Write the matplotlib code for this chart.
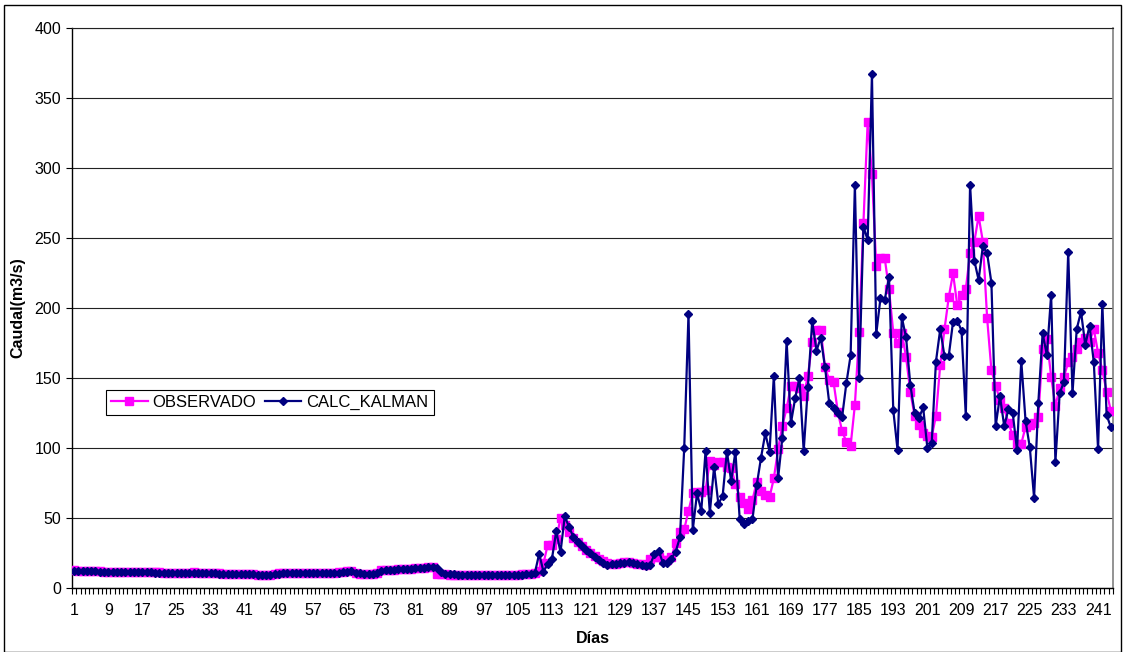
import matplotlib
matplotlib.use("Agg")
import matplotlib.pyplot as plt
from matplotlib.patches import Rectangle
from matplotlib.ticker import FixedLocator

plt.rcParams['font.family'] = ['Liberation Sans', 'DejaVu Sans']

# Daily discharge (m3/s): observed vs. Kalman-filter estimate
observado = [
    13.0, 12.5, 12.2, 12.0, 12.0, 11.8, 11.8, 11.7, 11.7, 11.6,
    11.6, 11.5, 11.5, 11.5, 11.4, 11.4, 11.3, 11.3, 11.2, 11.2,
    11.1, 11.0, 11.0, 10.9, 10.8, 10.8, 10.7, 11.0, 11.2, 11.0,
    10.8, 10.6, 10.5, 10.4, 10.4, 10.3, 10.3, 10.2, 10.2, 10.1,
    10.0, 9.9, 9.8, 9.6, 9.4, 9.3, 9.5, 10.0, 10.4, 10.6,
    10.8, 10.9, 11.0, 11.0, 10.9, 10.8, 10.7, 10.6, 10.5, 10.5,
    10.6, 10.8, 11.2, 11.6, 12.0, 12.4, 10.4, 10.2, 10.0, 10.0,
    10.2, 11.0, 12.8, 13.2, 13.0, 13.2, 13.4, 13.5, 13.6, 13.8,
    14.0, 14.2, 14.5, 14.8, 15.0, 9.8, 9.7, 9.7, 9.6, 9.6,
    9.6, 9.5, 9.5, 9.5, 9.5, 9.4, 9.4, 9.4, 9.4, 9.4,
    9.4, 9.5, 9.5, 9.6, 9.6, 9.7, 9.8, 10.0, 10.5, 12.0,
    17.6, 30.7, 31.0, 35.0, 49.8, 45.0, 40.0, 36.0, 33.0, 30.0,
    27.0, 25.0, 23.0, 21.0, 19.0, 18.0, 17.5, 17.5, 18.0, 18.5,
    18.5, 18.0, 17.5, 17.0, 16.5, 20.5, 22.0, 22.0, 20.0, 20.0,
    22.0, 32.4, 40.0, 42.0, 55.0, 68.0, 68.8, 68.8, 70.0, 90.5,
    88.0, 89.8, 90.2, 86.2, 86.0, 74.3, 65.2, 60.5, 56.2, 62.9,
    75.9, 69.3, 66.4, 64.8, 78.3, 99.0, 116.0, 128.3, 144.3, 144.3,
    142.6, 137.4, 151.7, 175.5, 184.3, 184.3, 157.6, 148.6, 147.0, 126.0,
    112.0, 104.5, 101.7, 130.7, 182.6, 260.5, 333.0, 295.7, 230.0, 235.5,
    235.5, 213.3, 182.4, 175.2, 182.4, 164.8, 140.2, 122.9, 116.4, 110.5,
    108.6, 108.0, 122.9, 159.3, 184.8, 207.6, 224.8, 202.0, 209.0, 213.5,
    239.0, 247.4, 265.7, 247.4, 192.6, 155.7, 144.5, 134.3, 128.3, 117.6,
    109.3, 102.9, 102.9, 115.2, 116.4, 118.0, 122.4, 170.7, 177.6, 151.0,
    130.2, 142.6, 151.0, 161.2, 164.8, 170.5, 176.0, 178.3, 176.0, 184.8,
    168.1, 155.7, 140.2, 126.4,
]

calc_kalman = [
    12.5, 12.2, 12.0, 11.9, 11.8, 11.8, 11.7, 11.6, 11.6, 11.5,
    11.5, 11.4, 11.4, 11.3, 11.3, 11.2, 11.2, 11.1, 11.1, 11.0,
    11.0, 10.9, 10.9, 10.8, 10.8, 10.7, 10.7, 10.8, 10.9, 10.9,
    10.7, 10.5, 10.4, 10.4, 10.3, 10.3, 10.2, 10.1, 10.1, 10.0,
    9.9, 9.8, 9.7, 9.5, 9.4, 9.3, 9.4, 9.8, 10.2, 10.5,
    10.7, 10.8, 10.9, 10.9, 10.8, 10.7, 10.6, 10.6, 10.5, 10.5,
    10.6, 10.8, 11.0, 11.4, 11.7, 11.9, 11.0, 10.5, 10.3, 10.2,
    10.3, 10.8, 12.0, 12.7, 12.9, 13.1, 13.3, 13.4, 13.6, 13.8,
    14.0, 14.2, 14.4, 14.7, 14.9, 14.0, 11.2, 10.2, 9.9, 9.7,
    9.6, 9.6, 9.5, 9.5, 9.5, 9.5, 9.4, 9.4, 9.4, 9.4,
    9.4, 9.5, 9.5, 9.5, 9.6, 9.6, 9.7, 9.9, 10.8, 24.5,
    11.7, 17.0, 21.0, 40.5, 25.5, 51.4, 43.5, 36.7, 33.0, 30.0,
    27.0, 24.8, 22.4, 20.0, 18.0, 16.6, 17.0, 17.3, 17.8, 18.2,
    18.3, 17.6, 17.0, 16.4, 16.0, 16.2, 24.3, 26.7, 18.0, 17.6,
    21.0, 26.0, 36.2, 100.2, 195.7, 41.4, 67.6, 55.2, 97.9, 53.8,
    86.7, 60.0, 65.7, 97.4, 76.4, 97.4, 49.3, 45.5, 48.0, 49.3,
    73.6, 93.1, 110.5, 97.4, 151.4, 78.3, 107.4, 176.4, 117.6, 135.5,
    149.8, 97.9, 143.8, 190.7, 169.5, 178.8, 157.6, 131.9, 128.3, 124.8,
    121.9, 146.2, 166.2, 288.0, 149.8, 258.0, 248.6, 367.0, 181.4, 207.0,
    206.0, 222.0, 127.0, 98.6, 193.3, 179.0, 145.0, 125.2, 121.2, 129.0,
    99.8, 103.3, 161.7, 184.8, 165.7, 165.7, 190.0, 191.0, 183.8, 122.9,
    288.0, 233.8, 220.0, 244.3, 239.0, 218.0, 115.7, 137.1, 115.7, 127.6,
    124.8, 98.6, 162.1, 119.5, 100.5, 64.5, 132.4, 181.9, 166.4, 209.3,
    90.2, 139.0, 147.4, 239.8, 139.0, 185.0, 197.4, 173.6, 187.4, 161.2,
    99.3, 202.9, 123.6, 114.8,
]

dias = list(range(1, len(observado) + 1))
dia_labels = list(range(1, len(dias) + 1, 8))
y_ticks = list(range(0, 401, 50))

fig = plt.figure(figsize=(11.26, 6.52), dpi=100)
ax = fig.add_axes([72 / 1126, 64 / 652, 1041 / 1126, 560 / 652])

ax.plot(dias, observado, color='#FF00FF', lw=1.6, marker='s', ms=5.8,
        mec='#FF00FF', mfc='#FF00FF', label='OBSERVADO', zorder=3)
ax.plot(dias, calc_kalman, color='#000080', lw=1.6, marker='D', ms=4.5,
        mec='#000080', mfc='#000080', label='CALC_KALMAN', zorder=4)

ax.set_xlim(0.5, len(dias) + 0.5)
ax.set_ylim(0, 400)

# category axis: labels every 8 days, tick marks between categories
ax.xaxis.set_major_locator(FixedLocator(dia_labels))
ax.set_xticklabels([str(d) for d in dia_labels], fontsize=11.5)
ax.xaxis.set_minor_locator(FixedLocator([d + 0.5 for d in range(0, len(dias) + 1)]))
ax.tick_params(axis='x', which='major', length=0, pad=11)
ax.tick_params(axis='x', which='minor', length=4, width=0.8, color='black', direction='out')

ax.set_yticks(y_ticks)
ax.set_yticklabels([str(v) for v in y_ticks], fontsize=11.5)
ax.tick_params(axis='y', which='major', length=4, width=0.8, direction='out', pad=4)

ax.grid(axis='y', color='#222222', lw=0.8, zorder=1)
ax.set_axisbelow(True)

for side in ('left', 'bottom'):
    ax.spines[side].set_color('black')
    ax.spines[side].set_linewidth(1.0)
ax.spines['top'].set_color('#222222')
ax.spines['top'].set_linewidth(0.8)
ax.spines['right'].set_color('#808080')
ax.spines['right'].set_linewidth(1.2)

ax.set_xlabel('Días', fontsize=11.5, fontweight='bold', labelpad=9)
ax.set_ylabel('Caudal(m3/s)', fontsize=11.5, fontweight='bold', labelpad=6)

leg = ax.legend(loc='center', bbox_to_anchor=(0.19, 0.332), ncol=2, fontsize=12,
                frameon=True, fancybox=False, edgecolor='black', framealpha=1,
                handlelength=2.2, handletextpad=0.3, columnspacing=0.5,
                borderpad=0.3, borderaxespad=0)
leg.get_frame().set_linewidth(0.8)

# outer chart border
fig.patches.append(Rectangle((4 / 1126, 0 / 652), 1117 / 1126, 647 / 652,
                             transform=fig.transFigure, fill=False,
                             edgecolor='black', lw=1.0))

fig.savefig('out.png', dpi=100)
